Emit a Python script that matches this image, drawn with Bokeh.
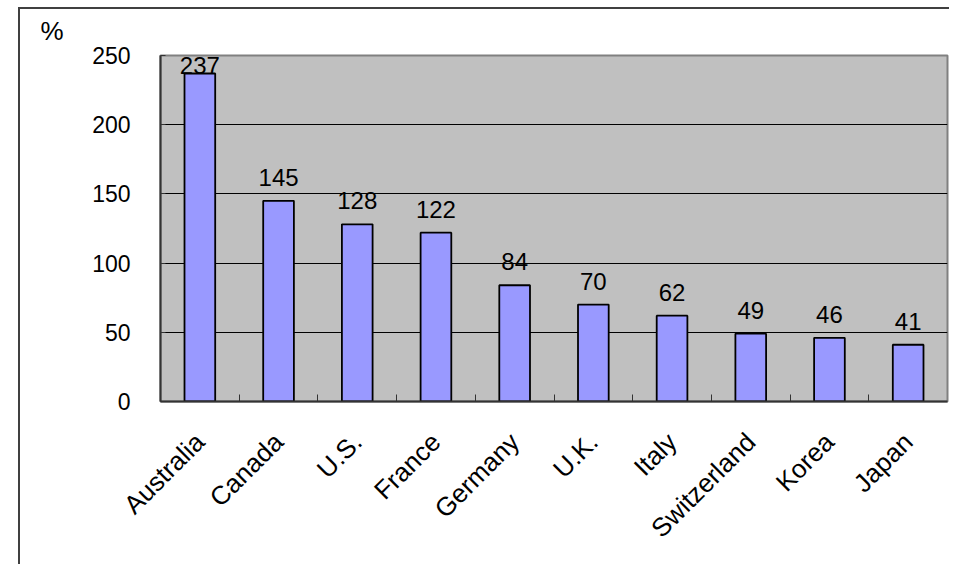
from math import pi
from bokeh.plotting import figure
from bokeh.models import ColumnDataSource, Range1d, LinearAxis, FixedTicker
from bokeh.core.properties import value
from bokeh.embed import file_html
from bokeh.resources import INLINE

# ---- data ----
countries = ["Australia", "Canada", "U.S.", "France", "Germany",
             "U.K.", "Italy", "Switzerland", "Korea", "Japan"]
values = [237, 145, 128, 122, 84, 70, 62, 49, 46, 41]
y_ticks = [0, 50, 100, 150, 200, 250]
unit_label = "%"

n = len(countries)
y_max = y_ticks[-1]
centers = [i + 0.5 for i in range(n)]
bounds = list(range(1, n))

FONT = "Liberation Sans"

# label heights (data units), clamped inside plot area
label_y = [min(v + 17, y_max - 7) for v in values]

src = ColumnDataSource(dict(x=centers, top=values, lab=[str(v) for v in values], ly=label_y))

p = figure(width=949, height=564,
           x_range=Range1d(0, n), y_range=Range1d(0, y_max),
           x_axis_type=None,
           output_backend="svg", toolbar_location=None,
           min_border_left=160, min_border_right=2,
           min_border_top=55, min_border_bottom=163)

p.background_fill_color = "#c0c0c0"
p.border_fill_color = None
p.outline_line_color = "#808080"
p.outline_line_width = 2

# outer chart frame (left and top edges visible)
p.styles = {
    "background": "linear-gradient(#404040,#404040) 18px 7px / 2px 100% no-repeat, "
                  "linear-gradient(#404040,#404040) 18px 7px / calc(100% - 18px) 2px no-repeat",
}

# unit label as title at top-left
p.title.text = unit_label
p.title.align = "left"
p.title.offset = -120
p.title.text_font = FONT
p.title.text_font_size = "26px"
p.title.text_font_style = "normal"
p.title.text_color = "black"
p.title.standoff = 20

# grid
p.xgrid.visible = False
p.ygrid.grid_line_color = "black"
p.ygrid.grid_line_width = 1
p.ygrid.ticker = FixedTicker(ticks=y_ticks)

# y axis
ya = p.yaxis[0]
ya.ticker = FixedTicker(ticks=y_ticks)
ya.axis_line_color = "#333333"
ya.axis_line_width = 2
ya.major_tick_in = 5
ya.major_tick_out = 0
ya.major_tick_line_color = "#333333"
ya.minor_tick_line_color = None
ya.major_label_text_font = FONT
ya.major_label_text_font_size = "23px"
ya.major_label_text_color = "black"
ya.major_label_standoff = 30

# x axis: labels at category centers, ticks at category boundaries
xa = LinearAxis(ticker=FixedTicker(ticks=centers, minor_ticks=bounds),
                major_label_overrides={c: name for c, name in zip(centers, countries)})
xa.axis_line_color = "#333333"
xa.axis_line_width = 2
xa.major_tick_line_color = None
xa.major_tick_in = 0
xa.major_tick_out = 0
xa.minor_tick_line_color = "#333333"
xa.minor_tick_in = 7
xa.minor_tick_out = 0
xa.major_label_orientation = pi / 4
xa.major_label_text_font = FONT
xa.major_label_text_font_size = "26px"
xa.major_label_text_color = "black"
xa.major_label_text_baseline = "bottom"
xa.major_label_standoff = 36
p.add_layout(xa, "below")

# bars
p.vbar(x="x", top="top", width=0.39, bottom=0, source=src,
       fill_color="#9999ff", line_color="black", line_width=1.8)

# value labels
p.text(x="x", y="ly", text="lab", source=src,
       text_align="center", text_baseline="alphabetic",
       text_font=value(FONT), text_font_size="24px", text_color="black")

open("out.html", "w").write(file_html(p, INLINE))
